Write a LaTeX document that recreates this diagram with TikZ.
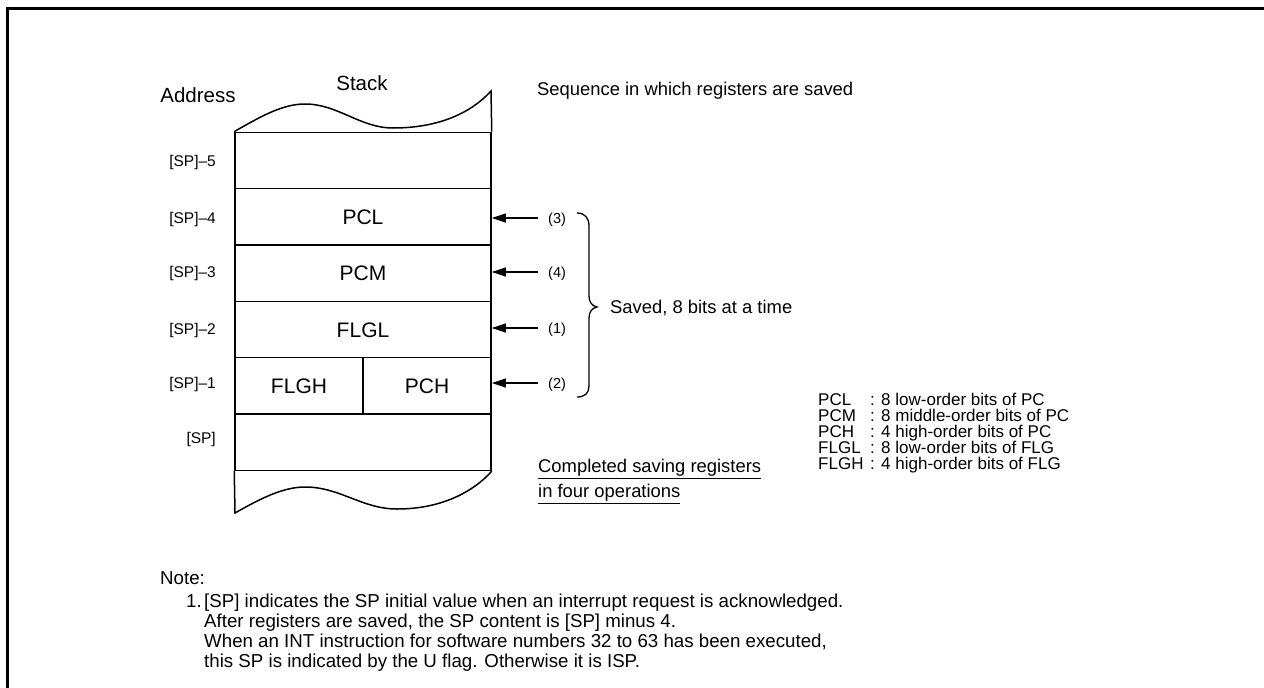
\documentclass[tikz,border=0pt]{standalone}
\usepackage{fontspec}
\setmainfont{Liberation Sans}
\usetikzlibrary{arrows.meta}
\begin{document}
\begin{tikzpicture}[x=1pt,y=-1pt,
  stk/.style={line width=1.5pt},
  cell/.style={draw, line width=1.5pt, minimum width=256pt, minimum height=56.33pt, inner sep=0pt, text height=15pt, text depth=0pt, font=\fontsize{21}{24}\selectfont},
  half/.style={cell, minimum width=128pt},
  addr/.style={anchor=east, inner sep=0pt, text height=11pt, text depth=0pt, font=\fontsize{15.5}{18}\selectfont},
  num/.style={anchor=west, inner sep=0pt, inner xsep=10pt, text height=10.5pt, text depth=0pt, font=\fontsize{14.5}{17}\selectfont},
  arr/.style={-{Triangle[length=14pt,width=9pt]}, line width=1.2pt},
  title/.style={inner sep=0pt, text height=15pt, text depth=0pt, font=\fontsize{20.5}{24}\selectfont},
  txt/.style={anchor=west, inner sep=0pt, text height=13pt, text depth=0pt, font=\fontsize{18.4}{21}\selectfont},
  leg/.style={anchor=west, inner sep=0pt, text height=12pt, text depth=0pt, font=\fontsize{17}{16}\selectfont},
  note/.style={anchor=west, inner sep=0pt, text height=13.5pt, text depth=0pt, font=\fontsize{18.7}{20}\selectfont},
]
\useasboundingbox (0,0) rectangle (1264,688);
% frame
\draw[line width=3pt] (7,688) -- (7,8.5) -- (1264,8.5);

% titles
\node[title] (addrtitle) at (198,95) {Address};
\node[title] (stacktitle) at (362,83) {Stack};
\node[txt] (seq) at (537,89) {Sequence in which registers are saved};

% stack cells
\node[cell] (r5) at (363,160.5) {};
\node[cell] (r4) at (363,216.8) {PCL};
\node[cell] (r3) at (363,273.2) {PCM};
\node[cell] (r2) at (363,329.5) {FLGL};
\node[half] (r1a) at (299,385.8) {FLGH};
\node[half] (r1b) at (427,385.8) {PCH};
\node[cell] (r0) at (363,442.2) {};

% wavy ends
\draw[stk] (r5.north west) .. controls (260,117) and (282,104) .. (305,104)
  .. controls (338,104) and (360,128) .. (393,128)
  .. controls (440,128) and (472,112) .. (491,91) -- (r5.north east);
\draw[stk] (r0.south west) -- (235,513) .. controls (258,500) and (282,487) .. (305,487)
  .. controls (340,487) and (362,509) .. (397,509)
  .. controls (445,509) and (476,489) .. (r0.south east);

% address labels
\node[addr] (a5) at (216,161) {[SP]–5};
\node[addr] (a4) at (216,218) {[SP]–4};
\node[addr] (a3) at (216,272) {[SP]–3};
\node[addr] (a2) at (216,329) {[SP]–2};
\node[addr] (a1) at (216,383) {[SP]–1};
\node[addr] (a0) at (216,438) {[SP]};

% sequence numbers and arrows
\node[num] (n3) at (538,218) {(3)};
\node[num] (n4) at (538,272) {(4)};
\node[num] (n1) at (538,328) {(1)};
\node[num] (n2) at (538,383) {(2)};
\draw[arr] (n3.west) -- (r4.east |- n3.west);
\draw[arr] (n4.west) -- (r3.east |- n4.west);
\draw[arr] (n1.west) -- (r2.east |- n1.west);
\draw[arr] (n2.west) -- (r1b.east |- n2.west);

% brace
\draw[line width=1.3pt] (577,213) .. controls (585,213) and (589,218) .. (589,226) -- (589,296)
  .. controls (589,302) and (592,306) .. (597,307)
  .. controls (592,308) and (589,312) .. (589,318) -- (589,386)
  .. controls (589,393) and (585,397) .. (577,397);
\node[txt] (saved) at (610,307) {Saved, 8 bits at a time};

% completed
\node[txt] (comp1) at (538,466) {\underline{Completed saving registers}};
\node[txt] (comp2) at (538,491) {\underline{in four operations}};

% legend
\node[leg] (l1) at (818,399) {PCL};
\node[leg] (l2) at (818,415) {PCM};
\node[leg] (l3) at (818,431) {PCH};
\node[leg] (l4) at (818,447) {FLGL};
\node[leg] (l5) at (818,463) {FLGH};
\node[leg] (d1) at (870,399) {: 8 low-order bits of PC};
\node[leg] (d2) at (870,415) {: 8 middle-order bits of PC};
\node[leg] (d3) at (870,431) {: 4 high-order bits of PC};
\node[leg] (d4) at (870,447) {: 8 low-order bits of FLG};
\node[leg] (d5) at (870,463) {: 4 high-order bits of FLG};

% note
\node[note] (notehead) at (160,578) {Note:};
\node[note] (item) at (186,601) {1.};
\node[note] (t1) at (204,601) {[SP] indicates the SP initial value when an interrupt request is acknowledged.};
\node[note] (t2) at (204,621) {After registers are saved, the SP content is [SP] minus 4.};
\node[note] (t3) at (204,641) {When an INT instruction for software numbers 32 to 63 has been executed,};
\node[note] (t4) at (204,661) {this SP is indicated by the U flag. Otherwise it is ISP.};
\end{tikzpicture}
\end{document}
